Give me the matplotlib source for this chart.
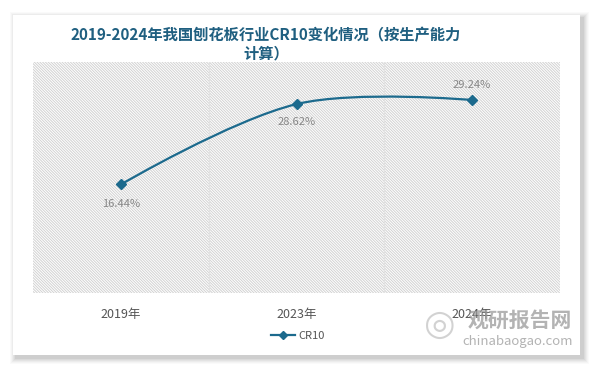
import numpy as np
import matplotlib
matplotlib.use("Agg")
from matplotlib import pyplot as plt
from matplotlib.path import Path
from matplotlib.patches import PathPatch, Rectangle
from matplotlib.lines import Line2D

plt.rcParams['font.family'] = ['Noto Sans CJK SC', 'DejaVu Sans']
plt.rcParams['hatch.color'] = '#d2d2d2'
plt.rcParams['hatch.linewidth'] = 0.7

# data
years = ['2019年', '2023年', '2024年']
cr10 = [16.44, 28.62, 29.24]
labels = ['16.44%', '28.62%', '29.24%']
title = '2019-2024年我国刨花板行业CR10变化情况（按生产能力\n计算）'

W, H = 594, 366
line_color = '#1c6a8d'
title_color = '#1f5f80'

fig = plt.figure(figsize=(W / 100, H / 100), dpi=100)
fig.patch.set_facecolor('white')


def px(x, y):
    # pixel coords (top-left origin) -> figure fraction
    return x / W, 1 - y / H


# card with soft shadow
for i, a in enumerate([0.02, 0.025, 0.03, 0.035, 0.04, 0.05]):
    g = 6 - i
    x0, y1 = px(13 - g + 3, 15 - g + 3)
    x1, y0 = px(580 + g + 3, 355 + g + 3)
    fig.patches.append(Rectangle((x0, y0), x1 - x0, y1 - y0, transform=fig.transFigure,
                                 facecolor='black', alpha=a, edgecolor='none', zorder=0))
x0, y1 = px(13, 15)
x1, y0 = px(580, 355)
fig.patches.append(Rectangle((x0, y0), x1 - x0, y1 - y0, transform=fig.transFigure,
                             facecolor='white', edgecolor='none', zorder=1))

l, t = px(33, 62)
r, b = px(560, 293)
ax = fig.add_axes([l, b, r - l, t - b])
ax.set_zorder(2)
ax.patch.set_facecolor('white')
ax.patch.set_hatch('\\' * 12)
ax.patch.set_edgecolor('#d2d2d2')
ax.patch.set_linewidth(0)

x = np.arange(len(years))
ax.set_xlim(-0.5, len(years) - 0.5)
ax.set_ylim(0, 35)
for s in ax.spines.values():
    s.set_visible(False)
for xb in [0.5, 1.5]:
    ax.axvline(xb, color='#e2e2e2', lw=0.9, zorder=1)

ax.set_xticks(x)
ax.set_xticklabels(years, fontsize=9, color='#555555')
ax.tick_params(axis='x', length=0, pad=11)
ax.set_yticks([])

# smooth curve like echarts (control points computed in pixel space)
fig.canvas.draw()
pts = ax.transData.transform(np.column_stack([x, cr10]))
smooth = 0.35
n = len(pts)
cps = []
for i in range(n):
    if i == 0 or i == n - 1:
        cps.append((pts[i], pts[i]))
        continue
    v = (pts[i + 1] - pts[i - 1]) * smooth
    d0 = np.hypot(*(pts[i] - pts[i - 1]))
    d1 = np.hypot(*(pts[i + 1] - pts[i]))
    cps.append((pts[i] - v * d0 / (d0 + d1), pts[i] + v * d1 / (d0 + d1)))
verts = [pts[0]]
codes = [Path.MOVETO]
for i in range(n - 1):
    verts += [cps[i][1], cps[i + 1][0], pts[i + 1]]
    codes += [Path.CURVE4] * 3
inv = ax.transData.inverted()
verts = inv.transform(np.array(verts))
ax.add_patch(PathPatch(Path(verts, codes), facecolor='none', edgecolor=line_color,
                       lw=1.6, zorder=3))
ax.plot(x, cr10, linestyle='none', marker='D', markersize=5, color=line_color, zorder=4)

offsets = [-14, -13, 11]
for xi, yi, lab, off in zip(x, cr10, labels, offsets):
    ax.annotate(lab, (xi, yi), xytext=(0, off), textcoords='offset points',
                ha='center', va='center', fontsize=8, color='#878787', zorder=5)

# title
tx, ty = px(266, 44)
fig.text(tx, ty, title, ha='center', va='center', fontsize=11, fontweight='bold',
         color=title_color, linespacing=1.2, zorder=5)

# legend
lx, ly = px(298, 336)
handle = Line2D([], [], color=line_color, lw=1.6, marker='D', markersize=4)
fig.legend([handle], ['CR10'], loc='center', bbox_to_anchor=(lx, ly), frameon=False,
           fontsize=8, handlelength=2.2, handletextpad=0.3, labelcolor='#555555')

# watermark
wx, wy = px(520, 320)
fig.text(wx, wy, '观研报告网', ha='center', va='center', fontsize=15, fontweight='bold',
         color='#9a9a9a', alpha=0.75, zorder=6)
wx, wy = px(518, 341)
fig.text(wx, wy, 'chinabaogao.com', ha='center', va='center', fontsize=9.5,
         color='#9a9a9a', alpha=0.75, zorder=6)
cx, cy = px(440, 325)
fig.text(cx, cy, '◎', ha='center', va='center', fontsize=26, color='#b5b5b5',
         alpha=0.6, family=['DejaVu Sans'], zorder=6)

fig.savefig('out.png', dpi=100)
